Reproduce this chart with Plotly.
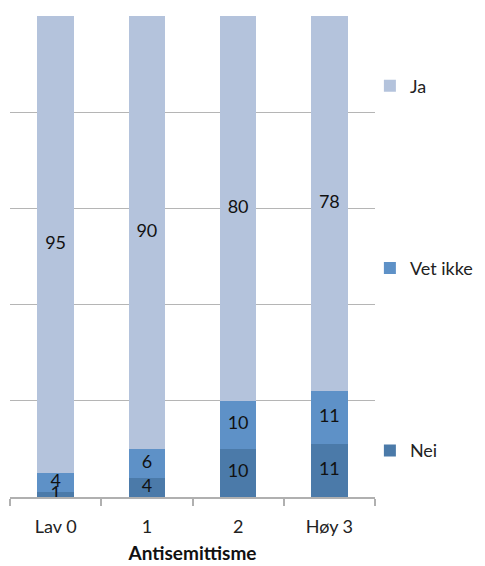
import plotly.graph_objects as go

categories = ["Lav 0", "1", "2", "Høy 3"]
nei = [1, 4, 10, 11]
vet_ikke = [4, 6, 10, 11]
ja = [95, 90, 80, 78]

series = [("Nei", nei, "#4b7aa9"), ("Vet ikke", vet_ikke, "#5e91c7"), ("Ja", ja, "#b4c3dc")]

fig = go.Figure()
base = [0] * len(categories)
label_x, label_y, label_t = [], [], []
for i, (name, vals, color) in enumerate(series):
    fig.add_trace(go.Bar(
        x=categories, y=vals, name=name, marker=dict(color=color, line=dict(width=0)),
        legendgroup=name, legendrank=3 - i, textposition="none", hoverinfo="skip",
    ))
    for j, v in enumerate(vals):
        label_x.append(categories[j])
        label_y.append(base[j] + v / 2)
        label_t.append(str(v))
        base[j] += v

fig.add_trace(go.Scatter(
    x=label_x, y=label_y, text=label_t, mode="text", showlegend=False,
    textfont=dict(size=18, color="#111111", family="Lato"), cliponaxis=False, hoverinfo="skip",
))

# page body has an 8px margin, so the figure is 8px smaller and shifted
fig.update_layout(
    width=477, height=558, barmode="stack", bargap=0.6,
    margin=dict(l=2, r=110, t=8, b=69, autoexpand=False),
    paper_bgcolor="white", plot_bgcolor="white",
    font=dict(family="Lato", size=18, color="#222222"),
    legend=dict(
        x=-0.014 + 1.0, y=0.893, xanchor="left", yanchor="top",
        traceorder="grouped", tracegroupgap=156, bgcolor="rgba(0,0,0,0)",
        font=dict(size=18, color="#222222"), itemwidth=30,
    ),
    xaxis=dict(
        automargin=False,
        showline=True, linecolor="#b0b0b0", linewidth=1.5,
        ticks="outside", tickson="boundaries", ticklen=7, tickcolor="#b0b0b0", tickwidth=1.5,
        tickfont=dict(size=18, color="#222222"), ticklabelstandoff=13,
        title=dict(text="<b>Antisemittisme</b>", font=dict(size=19, color="#111111"), standoff=10),
    ),
    yaxis=dict(
        automargin=False,
        range=[0, 100], tickvals=[20, 40, 60, 80], showticklabels=False,
        showgrid=True, gridcolor="#b5b5b5", gridwidth=1, zeroline=False,
    ),
)

fig.write_html("out.html")
